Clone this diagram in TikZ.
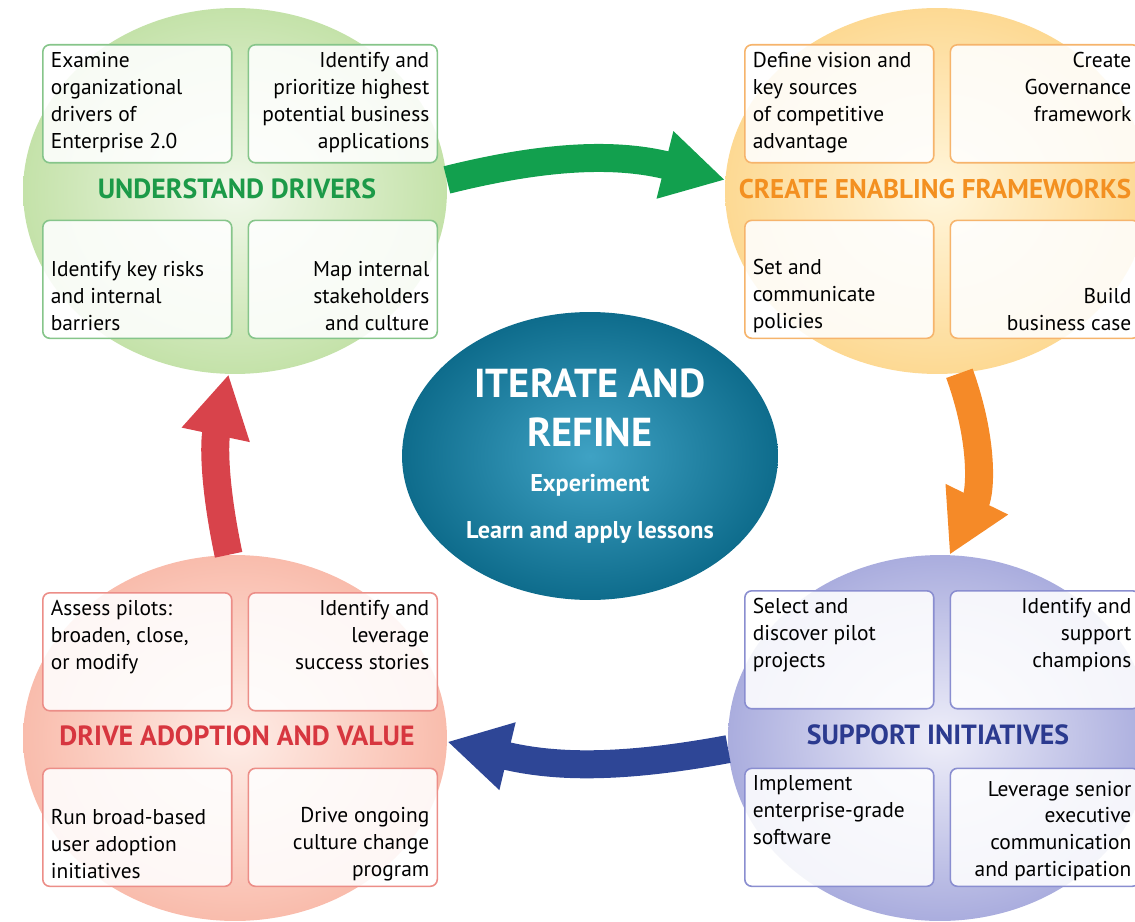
\documentclass[tikz,border=0pt]{standalone}
\usepackage{fontspec}
\setmainfont{PT Sans}
\usetikzlibrary{positioning, shapes.geometric, arrows.meta}

\definecolor{drvin}{HTML}{F1F8EA}
\definecolor{drvout}{HTML}{C4E2A9}
\definecolor{drvline}{HTML}{86C58A}
\definecolor{drvtext}{HTML}{1C9A48}
\definecolor{drvarrow}{HTML}{12A04E}
\definecolor{fwin}{HTML}{FFF6DC}
\definecolor{fwout}{HTML}{FDD993}
\definecolor{fwline}{HTML}{F6B46C}
\definecolor{fwtext}{HTML}{F39021}
\definecolor{fwarrow}{HTML}{F58A28}
\definecolor{supin}{HTML}{EEEEF9}
\definecolor{supout}{HTML}{AAADDE}
\definecolor{supline}{HTML}{8A8ED0}
\definecolor{suptext}{HTML}{2B3A8F}
\definecolor{suparrow}{HTML}{2E4696}
\definecolor{adpin}{HTML}{FEEDE7}
\definecolor{adpout}{HTML}{F9BCAC}
\definecolor{adpline}{HTML}{EC8E88}
\definecolor{adptext}{HTML}{D7363F}
\definecolor{adparrow}{HTML}{D8434B}
\definecolor{iterin}{HTML}{3FA2C4}
\definecolor{iterout}{HTML}{0E6C8C}

\newcommand{\cellL}[2][t]{\parbox[c][2.06cm][#1]{3.46cm}{\raggedright #2}}
\newcommand{\cellR}[2][t]{\parbox[c][2.06cm][#1]{3.46cm}{\raggedleft #2}}

\begin{document}
\begin{tikzpicture}[
    x=0.02cm, y=0.02cm,
    node distance=0.3cm,
    phase/.style={ellipse, minimum width=8.48cm, minimum height=7.32cm, inner sep=0pt, shading=radial},
    cell/.style={rectangle, draw=#1, line width=0.9pt, rounded corners=4pt, fill=white, fill opacity=0.88, text opacity=1, inner sep=0pt, minimum width=3.78cm, minimum height=2.36cm, font=\fontsize{12.2}{15.3}\selectfont},
    phasetitle/.style={font=\fontsize{15.8}{18}\selectfont\bfseries, text=#1},
    flow/.style={line width=0.56cm, draw=#1, -{Triangle[width=1.3cm, length=1.24cm]}}
]
    \useasboundingbox (0,0) rectangle (1135,921);
    \clip (0,0) rectangle (1135,921);

    % the four phases
    \node [phase, inner color=drvin, outer color=drvout] (drv) at (235,730) {};
    \node [phase, inner color=fwin, outer color=fwout] (fw) at (937,730) {};
    \node [phase, inner color=supin, outer color=supout] (sup) at (940,183) {};
    \node [phase, inner color=adpin, outer color=adpout] (adp) at (235,183) {};

    % understand drivers
    \node [cell=drvline, anchor=north west] (ud1) at (42,877) {\cellL{Examine\\organizational\\drivers of\\Enterprise 2.0}};
    \node [cell=drvline, right=of ud1] (ud2) {\cellR{Identify and\\prioritize highest\\potential business\\applications}};
    \node [cell=drvline, below=1.12cm of ud1] (ud3) {\cellL[b]{Identify key risks\\and internal\\barriers}};
    \node [cell=drvline, right=of ud3] (ud4) {\cellR[b]{Map internal\\stakeholders\\and culture}};
    \node [phasetitle=drvtext] (udt) at (237,732) {UNDERSTAND DRIVERS};

    % create enabling frameworks
    \node [cell=fwline, anchor=north west] (cf1) at (744,877) {\cellL{Define vision and\\key sources\\of competitive\\advantage}};
    \node [cell=fwline, right=of cf1] (cf2) {\cellR{Create\\Governance\\framework}};
    \node [cell=fwline, below=1.12cm of cf1] (cf3) {\cellL[b]{Set and\\communicate\\policies}};
    \node [cell=fwline, right=of cf3] (cf4) {\cellR[b]{Build\\business case}};
    \node [phasetitle=fwtext, font=\fontsize{15.4}{18}\selectfont\bfseries] (cft) at (935,732) {CREATE ENABLING FRAMEWORKS};

    % support initiatives
    \node [cell=supline, anchor=north west] (si1) at (744,331) {\cellL{Select and\\discover pilot\\projects}};
    \node [cell=supline, right=of si1] (si2) {\cellR{Identify and\\support\\champions}};
    \node [cell=supline, below=1.16cm of si1] (si3) {\cellL{Implement\\enterprise-grade\\software}};
    \node [cell=supline, right=of si3] (si4) {\cellR[b]{Leverage senior\\executive\\communication\\and participation}};
    \node [phasetitle=suptext] (sit) at (938,186) {SUPPORT INITIATIVES};

    % drive adoption and value
    \node [cell=adpline, anchor=north west] (da1) at (42,329) {\cellL{Assess pilots:\\broaden, close,\\or modify}};
    \node [cell=adpline, right=of da1] (da2) {\cellR{Identify and\\leverage\\success stories}};
    \node [cell=adpline, below=1.12cm of da1] (da3) {\cellL[b]{Run broad-based\\user adoption\\initiatives}};
    \node [cell=adpline, right=of da3] (da4) {\cellR[b]{Drive ongoing\\culture change\\program}};
    \node [phasetitle=adptext] (dat) at (237,185) {DRIVE ADOPTION AND VALUE};

    % cycle arrows
    \draw [flow=drvarrow] (drv.3) to[bend left=14] (fw.177);
    \draw [flow=fwarrow] (fw.-83) to[bend left=23] (sup.87);
    \draw [flow=suparrow] (sup.183) to[bend left=12] (adp.-1);
    \draw [flow=adparrow] (adp.92) to[bend left=12] (drv.-92);

    % centre
    \node [ellipse, minimum width=7.52cm, minimum height=5.76cm, inner sep=0pt, shading=radial, inner color=iterin, outer color=iterout] (iter) at (590,465) {};
    \node [text=white, align=center, font=\fontsize{23}{27.8}\selectfont\bfseries] (itert) at (590,513) {ITERATE AND\\REFINE};
    \node [text=white, align=center, font=\fontsize{13.8}{26.6}\selectfont\bfseries] (iters) at (590,412) {Experiment\\Learn and apply lessons};
\end{tikzpicture}
\end{document}
